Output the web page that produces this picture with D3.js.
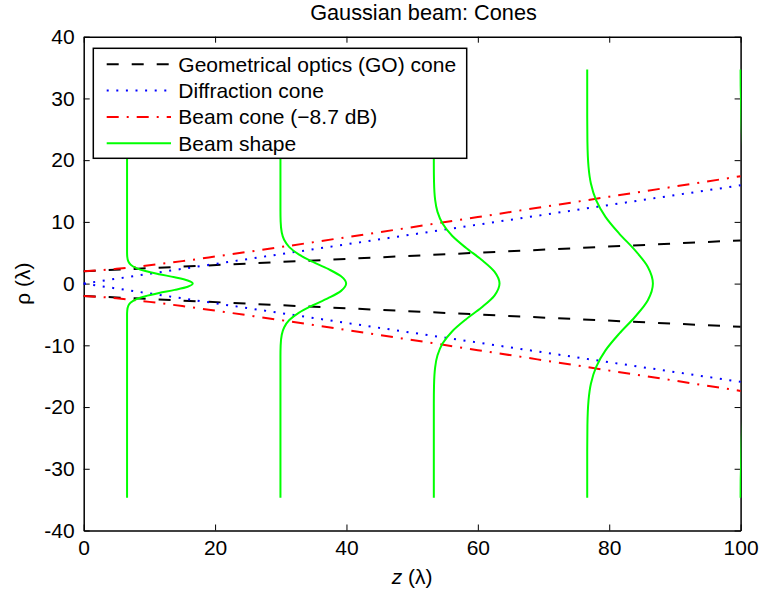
<!DOCTYPE html>
<html>
<head>
<meta charset="utf-8">
<script src="https://cdn.jsdelivr.net/npm/d3@7"></script>
<style>
  html, body { margin: 0; padding: 0; background: #fff; }
  svg { display: block; font-family: "Liberation Sans", Arial, Helvetica, sans-serif; }
</style>
</head>
<body>
<svg id="chart" width="763" height="592"></svg>
<script>
// ---- data -------------------------------------------------------------
const zTicks   = [0, 20, 40, 60, 80, 100];
const rhoTicks = [-40, -30, -20, -10, 0, 10, 20, 30, 40];

// Geometrical optics cone (straight lines)
const goZ     = [0, 100];
const goUpper = [2, 7];
const goLower = [-2, -7];

// Diffraction cone (straight lines through the waist centre)
const diffZ     = [0, 100];
const diffUpper = [0, 15.92];
const diffLower = [0, -15.92];

// Beam cone (-8.7 dB contour)
const beamZ     = [0, 2.5, 5, 7.5, 10, 15, 20, 30, 40, 50, 60, 70, 80, 90, 100];
const beamUpper = [2.00, 2.16, 2.39, 2.66, 2.96, 3.64, 4.38, 5.92, 7.52, 9.14, 10.78, 12.43, 14.08, 15.73, 17.39];
const beamLower = [-2.00, -2.16, -2.39, -2.66, -2.96, -3.64, -4.38, -5.92, -7.52, -9.14, -10.78, -12.43, -14.08, -15.73, -17.39];

// Beam shape profiles: base position along z, and half-profile (rho >= 0)
const profileBase = [6.6, 29.95, 53.3, 76.65, 100];
const profileRho = [
  [34.7, 5.11, 4.35, 3.58, 3.07, 2.56, 2.04, 1.53, 1.02, 0.51, 0],
  [34.7, 11.83, 10.05, 8.28, 7.10, 5.91, 4.73, 3.55, 2.37, 1.18, 0],
  [34.7, 19.37, 16.46, 13.56, 11.62, 9.68, 7.75, 5.81, 3.87, 1.94, 0],
  [34.7, 27.04, 22.98, 18.93, 16.22, 13.52, 10.82, 8.11, 5.41, 2.70, 0],
  [34.7, 32.00, 29.53, 24.32, 20.84, 17.37, 13.90, 10.42, 6.95, 3.47, 0]
];
const profileOffset = [
  [0, 0, 0.03, 0.20, 0.56, 1.35, 2.78, 4.87, 7.26, 9.23, 10],
  [0, 0, 0.03, 0.20, 0.56, 1.35, 2.78, 4.87, 7.26, 9.23, 10],
  [0, 0, 0.03, 0.20, 0.56, 1.35, 2.78, 4.87, 7.26, 9.23, 10],
  [0, 0, 0.03, 0.20, 0.56, 1.35, 2.78, 4.87, 7.26, 9.23, 10],
  [0, 0.01, 0.07, 0.20, 0.56, 1.35, 2.78, 4.87, 7.26, 9.23, 10]
];

const legendLabels = ["Geometrical optics (GO) cone", "Diffraction cone", "Beam cone (\u22128.7 dB)", "Beam shape"];

// ---- layout -----------------------------------------------------------
const svg = d3.select("#chart");
const plot = { left: 83.7, right: 740.6, top: 36.7, bottom: 530.5 };
const FONT = 21;

const x = d3.scaleLinear().domain([0, 100]).range([plot.left, plot.right]);
const y = d3.scaleLinear().domain([-40, 40]).range([plot.bottom, plot.top]);

const styles = {
  go:   { stroke: "#000000", width: 2, dash: "12,13" },
  diff: { stroke: "#0000ff", width: 2, dash: "2,7.6" },
  beam: { stroke: "#ff0000", width: 2, dash: "12,8,2,8" },
  shape:{ stroke: "#00ff00", width: 2, dash: null }
};

// ---- axes box and ticks ----------------------------------------------
svg.append("rect")
  .attr("x", plot.left).attr("y", plot.top)
  .attr("width", plot.right - plot.left).attr("height", plot.bottom - plot.top)
  .attr("fill", "#fff");

const tickLen = 6;
const axisG = svg.append("g");

const xb = axisG.append("g").attr("transform", `translate(0,${plot.bottom})`)
  .call(d3.axisBottom(x).tickValues(zTicks).tickSizeInner(-tickLen).tickSizeOuter(0).tickPadding(10));
const xt = axisG.append("g").attr("transform", `translate(0,${plot.top})`)
  .call(d3.axisTop(x).tickValues(zTicks).tickSizeInner(-tickLen).tickSizeOuter(0).tickFormat(""));
const yl = axisG.append("g").attr("transform", `translate(${plot.left},0)`)
  .call(d3.axisLeft(y).tickValues(rhoTicks).tickSizeInner(-tickLen).tickSizeOuter(0).tickPadding(9)
    .tickFormat(d => String(d)));
const yr = axisG.append("g").attr("transform", `translate(${plot.right},0)`)
  .call(d3.axisRight(y).tickValues(rhoTicks).tickSizeInner(-tickLen).tickSizeOuter(0).tickFormat(""));

[xb, xt, yl, yr].forEach(g => {
  g.select(".domain").attr("stroke", "#000").attr("stroke-width", 1.5);
  g.selectAll(".tick line").attr("stroke", "#000").attr("stroke-width", 1);
  g.selectAll(".tick text").attr("fill", "#000").style("font-size", FONT + "px")
    .style("font-family", '"Liberation Sans", Arial, sans-serif');
});

// ---- data lines -------------------------------------------------------
svg.append("clipPath").attr("id", "plotClip").append("rect")
  .attr("x", plot.left - 1).attr("y", plot.top)
  .attr("width", plot.right - plot.left + 1.6).attr("height", plot.bottom - plot.top);

const dataG = svg.append("g").attr("clip-path", "url(#plotClip)");
const straight = d3.line().x(d => x(d[0])).y(d => y(d[1]));
const smooth = d3.line().x(d => x(d[0])).y(d => y(d[1])).curve(d3.curveMonotoneX);

function drawPath(points, st, gen) {
  dataG.append("path")
    .attr("d", gen(points))
    .attr("fill", "none")
    .attr("stroke", st.stroke)
    .attr("stroke-width", st.width)
    .attr("stroke-dasharray", st.dash)
    .attr("stroke-linecap", "butt");
}

// GO cone
drawPath(d3.zip(goZ, goUpper), styles.go, straight);
drawPath(d3.zip(goZ, goLower), styles.go, straight);
// Diffraction cone
drawPath(d3.zip(diffZ, diffUpper), styles.diff, straight);
drawPath(d3.zip(diffZ, diffLower), styles.diff, straight);
// Beam cone
drawPath(d3.zip(beamZ, beamUpper), styles.beam, smooth);
drawPath(d3.zip(beamZ, beamLower), styles.beam, smooth);

// Beam shapes: full profile from +rho to -rho, offset to the right of the base
const shapeLine = d3.line().x(d => x(d[0])).y(d => y(d[1])).curve(d3.curveMonotoneY);
profileBase.forEach((z0, i) => {
  const rho = profileRho[i], off = profileOffset[i];
  const upper = rho.map((r, k) => [z0 + off[k], r]);
  const lower = rho.slice(0, -1).map((r, k) => [z0 + off[k], -r]);
  const pts = upper.concat(lower).sort((a, b) => b[1] - a[1]);
  dataG.append("path")
    .attr("d", shapeLine(pts))
    .attr("fill", "none")
    .attr("stroke", styles.shape.stroke)
    .attr("stroke-width", styles.shape.width);
});

// ---- title and axis labels -------------------------------------------
svg.append("text")
  .attr("x", 423.5).attr("y", 20)
  .attr("text-anchor", "middle").style("font-size", "21.7px")
  .text("Gaussian beam: Cones");

const xlab = svg.append("text")
  .attr("x", (plot.left + plot.right) / 2).attr("y", 584)
  .attr("text-anchor", "middle").style("font-size", FONT + "px");
xlab.append("tspan").style("font-style", "italic").text("z");
xlab.append("tspan").text(" (\u03bb)");

svg.append("text")
  .attr("transform", `translate(30,${(plot.top + plot.bottom) / 2}) rotate(-90)`)
  .attr("text-anchor", "middle").style("font-size", FONT + "px")
  .text("\u03c1 (\u03bb)");

// ---- legend -----------------------------------------------------------
const leg = { x: 93.3, y: 48.3, w: 373.4, h: 110 };
const legG = svg.append("g");
legG.append("rect")
  .attr("x", leg.x).attr("y", leg.y).attr("width", leg.w).attr("height", leg.h)
  .attr("fill", "#fff").attr("stroke", "#000").attr("stroke-width", 1.5);

const legStyles = [styles.go, styles.diff, styles.beam, styles.shape];
legendLabels.forEach((lab, i) => {
  const cy = leg.y + 16 + i * 26.3;
  const st = legStyles[i];
  legG.append("line")
    .attr("x1", 106.7).attr("x2", 171).attr("y1", cy).attr("y2", cy)
    .attr("stroke", st.stroke).attr("stroke-width", st.width)
    .attr("stroke-dasharray", st.dash);
  legG.append("text")
    .attr("x", 178.3).attr("y", cy + 7.5)
    .style("font-size", FONT + "px")
    .text(lab);
});
</script>
</body>
</html>
